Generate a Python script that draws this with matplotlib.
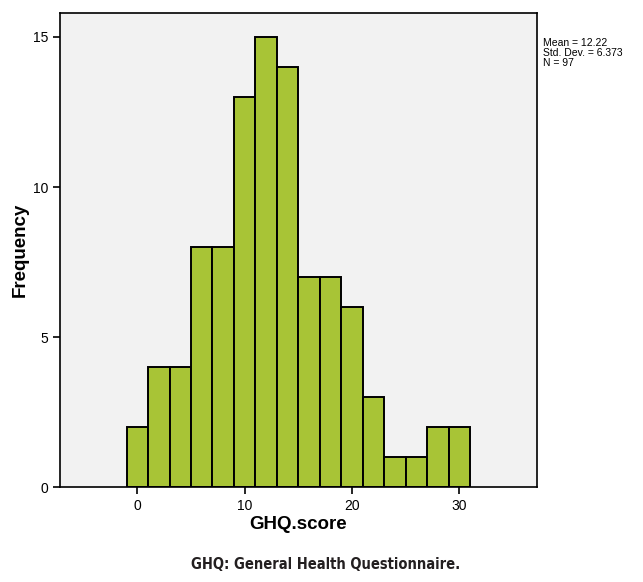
import matplotlib
matplotlib.use("Agg")
import matplotlib.pyplot as plt

# bin centres (GHQ score) and counts
bin_centres = [0, 2, 4, 6, 8, 10, 12, 14, 16, 18, 20, 22, 24, 26, 28, 30]
counts = [2, 4, 4, 8, 8, 13, 15, 14, 7, 7, 6, 3, 1, 1, 2, 2]
bin_width = 2
stats_lines = ["Mean = 12.22", "Std. Dev. = 6.373", "N = 97"]

plt.rcParams['font.family'] = ['Liberation Sans', 'DejaVu Sans']

fig = plt.figure(figsize=(6.43, 5.82), dpi=100)
ax = fig.add_axes([0.0933, 0.1627, 0.7414, 0.815])
ax.set_facecolor('#f2f2f2')

ax.bar(bin_centres, counts, width=bin_width, color='#a8c436',
       edgecolor='black', linewidth=1.4, zorder=2)

ax.set_xlim(-7.2, 37.2)
ax.set_ylim(0, 15.8)
ax.set_xticks([0, 10, 20, 30])
ax.set_yticks([0, 5, 10, 15])
ax.tick_params(direction='out', length=5, width=1.2, labelsize=10)
for s in ax.spines.values():
    s.set_linewidth(1.2)

ax.set_xlabel('GHQ.score', fontsize=13.5, fontweight='bold', labelpad=2)
ax.set_ylabel('Frequency', fontsize=13.5, fontweight='bold', labelpad=3)

fig.text(0.845, 0.935, "\n".join(stats_lines), fontsize=7.5,
         va='top', ha='left', linespacing=1.0)

fig.text(0.506, 0.022, 'GHQ: General Health Questionnaire.',
         family='DejaVu Sans', stretch='condensed',
         fontsize=10.5, fontweight='bold', color='#231f20', ha='center')

fig.savefig('out.png', dpi=100)
